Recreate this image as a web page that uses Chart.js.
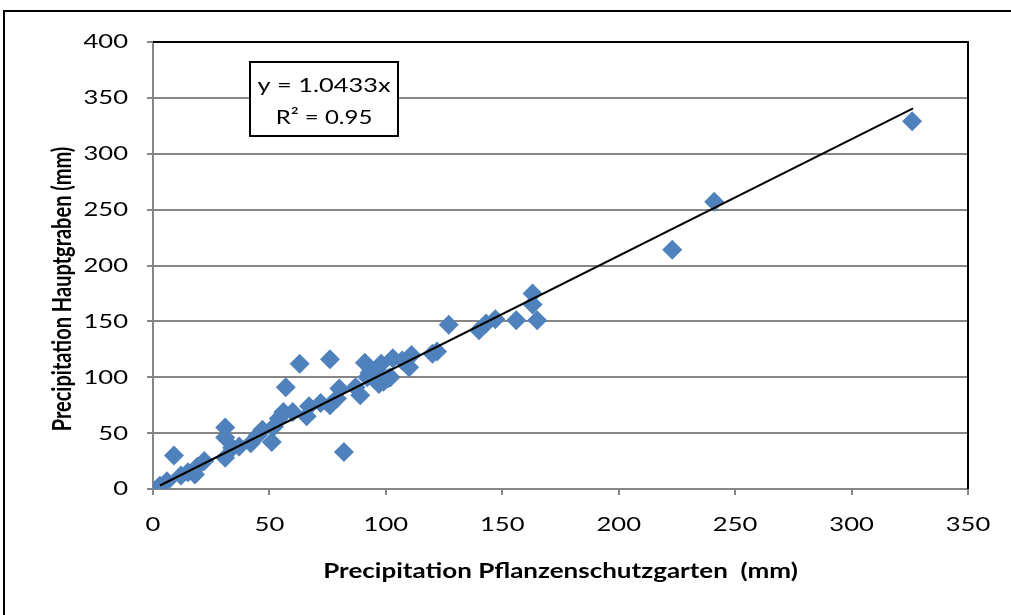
<!DOCTYPE html>
<html>
<head>
<meta charset="utf-8">
<script src="https://cdn.jsdelivr.net/npm/chart.js@4.4.1/dist/chart.umd.min.js"></script>
<style>
  html, body { margin: 0; padding: 0; background: #fff; }
  #wrap { width: 1011px; height: 615px; position: relative; }
</style>
</head>
<body>
<div id="wrap"><canvas id="c" width="1011" height="615"></canvas></div>
<script>
// Precipitation Pflanzenschutzgarten (mm)
const xValues = [2, 3, 6, 9, 12, 15, 18, 19, 22, 31, 31, 31, 34, 37, 42, 45, 47, 51, 52, 54,
  56, 57, 60, 63, 66, 67, 72, 76, 76, 79, 80, 82, 87, 89, 91, 92, 93, 96, 97, 98,
  99, 101, 102, 103, 107, 110, 111, 120, 122, 127, 140, 143, 147, 156, 163, 163, 165, 223, 241, 326];
// Precipitation Hauptgraben (mm)
const yValues = [1, 3, 7, 30, 12, 15, 13, 20, 25, 55, 46, 28, 37, 38, 41, 48, 53, 42, 56, 63,
  69, 91, 69, 112, 65, 74, 77, 116, 75, 81, 90, 33, 91, 84, 113, 100, 104, 107, 94, 112,
  96, 99, 100, 117, 115, 109, 120, 121, 123, 147, 142, 148, 152, 151, 175, 165, 151, 214, 257, 329];
const xTicks = [0, 50, 100, 150, 200, 250, 300, 350];
const yTicks = [0, 50, 100, 150, 200, 250, 300, 350, 400];
const trendSlope = 1.0433;
const trendRange = [3, 326.4];
const equationLines = ['y = 1.0433x', 'R\u00B2 = 0.95'];
const xTitle = 'Precipitation Pflanzenschutzgarten  (mm)';
const yTitle = 'Precipitation Hauptgraben (mm)';

const points = xValues.map((x, i) => ({ x: x, y: yValues[i] }));
const trend = trendRange.map(x => ({ x: x, y: trendSlope * x }));

const FONT = 'Lato, "Open Sans", sans-serif';
const STRETCH = 1.28;

function stretchedText(ctx, text, x, y, align, sx) {
  ctx.save();
  ctx.translate(x, y);
  ctx.scale(sx, 1);
  ctx.textAlign = align;
  ctx.fillText(text, 0, 0);
  ctx.restore();
}

const decor = {
  id: 'decor',
  beforeDraw(chart) {
    const ctx = chart.ctx;
    ctx.save();
    ctx.fillStyle = '#fff';
    ctx.fillRect(0, 0, chart.width, chart.height);
    ctx.strokeStyle = '#000';
    ctx.lineWidth = 2;
    ctx.strokeRect(4, 11, 1100, 700);
    ctx.restore();
  },
  beforeDatasetsDraw(chart) {
    const ctx = chart.ctx;
    const a = chart.chartArea;
    ctx.save();
    ctx.strokeStyle = '#000';
    ctx.lineWidth = 2;
    ctx.beginPath();
    ctx.moveTo(a.left, a.top);
    ctx.lineTo(a.right, a.top);
    ctx.lineTo(a.right, a.bottom);
    ctx.stroke();
    ctx.restore();
  },
  afterDraw(chart) {
    const ctx = chart.ctx;
    const xs = chart.scales.x, ys = chart.scales.y;
    const a = chart.chartArea;
    ctx.save();
    ctx.fillStyle = '#000';
    ctx.textBaseline = 'middle';
    // tick labels
    ctx.font = '20px ' + FONT;
    xTicks.forEach(v => stretchedText(ctx, String(v), xs.getPixelForValue(v), a.bottom + 36, 'center', STRETCH));
    yTicks.forEach(v => stretchedText(ctx, String(v), a.left - 25, ys.getPixelForValue(v), 'right', STRETCH));
    // x title
    ctx.font = 'bold 20px ' + FONT;
    stretchedText(ctx, xTitle, (a.left + a.right) / 2, 572, 'center', 1.3);
    // equation box
    ctx.fillStyle = '#fff';
    ctx.fillRect(250, 62, 148, 74);
    ctx.strokeStyle = '#000';
    ctx.lineWidth = 2;
    ctx.strokeRect(250, 62, 148, 74);
    ctx.fillStyle = '#000';
    ctx.font = '20px ' + FONT;
    stretchedText(ctx, equationLines[0], 324, 86, 'center', 1.27);
    stretchedText(ctx, equationLines[1], 324, 118, 'center', 1.2);
    // y title
    ctx.translate(63, 289);
    ctx.rotate(-Math.PI / 2);
    ctx.scale(1, 1.3);
    ctx.font = 'bold 20px ' + FONT;
    ctx.textAlign = 'center';
    ctx.fillText(yTitle, 0, 0);
    ctx.restore();
  }
};

new Chart(document.getElementById('c'), {
  type: 'scatter',
  data: {
    datasets: [
      {
        type: 'line',
        data: trend,
        borderColor: '#000',
        borderWidth: 2,
        pointRadius: 0,
        fill: false,
        order: 0
      },
      {
        data: points,
        pointStyle: 'rectRot',
        pointRadius: 10,
        pointHoverRadius: 10,
        backgroundColor: '#4F81BD',
        borderColor: '#4F81BD',
        borderWidth: 0,
        order: 1
      }
    ]
  },
  plugins: [decor],
  options: {
    responsive: false,
    animation: false,
    events: [],
    layout: { padding: { left: 0, top: 42, right: 43, bottom: 0 } },
    plugins: { legend: { display: false }, tooltip: { enabled: false } },
    scales: {
      x: {
        type: 'linear',
        min: 0, max: 350,
        afterBuildTicks(s) { s.ticks = xTicks.map(v => ({ value: v })); },
        afterFit(s) { s.height = 126; },
        grid: { display: true, drawOnChartArea: false, drawTicks: true, tickLength: 6, color: '#868686', lineWidth: 2 },
        border: { display: true, color: '#868686', width: 2 },
        ticks: { display: false },
        title: { display: false }
      },
      y: {
        type: 'linear',
        min: 0, max: 400,
        afterBuildTicks(s) { s.ticks = yTicks.map(v => ({ value: v })); },
        afterFit(s) { s.width = 153; },
        grid: { display: true, drawTicks: true, tickLength: 6, color: '#868686', lineWidth: 2 },
        border: { display: true, color: '#868686', width: 2 },
        ticks: { display: false },
        title: { display: false }
      }
    }
  }
});
</script>
</body>
</html>
